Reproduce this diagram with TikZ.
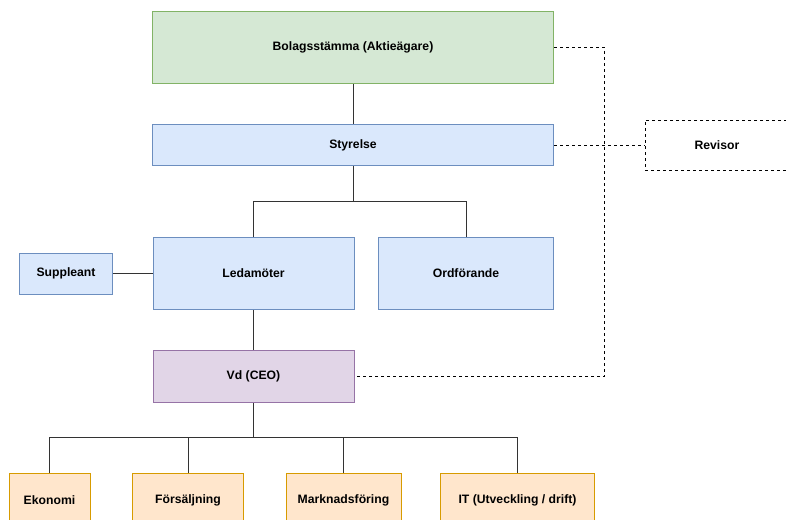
\documentclass[tikz,border=0pt]{standalone}
\usepackage{fontspec}
\setmainfont{Liberation Sans}
\definecolor{gfill}{HTML}{D5E8D4}\definecolor{gdraw}{HTML}{82B366}
\definecolor{bfill}{HTML}{DAE8FC}\definecolor{bdraw}{HTML}{6C8EBF}
\definecolor{pfill}{HTML}{E1D5E7}\definecolor{pdraw}{HTML}{9673A6}
\definecolor{ofill}{HTML}{FFE6CC}\definecolor{odraw}{HTML}{D79B00}
\definecolor{conn}{HTML}{333333}
\begin{document}
\begin{tikzpicture}[x=1pt,y=-1pt,
  box/.style={draw, line width=1pt, font=\fontsize{12.2}{14}\selectfont\bfseries, inner sep=0pt},
  green/.style={box, fill=gfill, draw=gdraw},
  blue/.style={box, fill=bfill, draw=bdraw},
  purple/.style={box, fill=pfill, draw=pdraw},
  orange/.style={box, fill=ofill, draw=odraw},
  dbox/.style={box, draw=black, dashed, dash pattern=on 3pt off 3pt},
  link/.style={draw=conn, line width=1pt},
  dlink/.style={draw=black, line width=1pt, dash pattern=on 3pt off 3pt}]
\useasboundingbox (0,0) rectangle (786,519);
\clip (0,0) rectangle (786,519);
\fill[white] (0,0) rectangle (786,519);
\node[green, minimum width=401pt, minimum height=72pt] (bol) at (353,47.5) {Bolagsstämma (Aktieägare)};
\node[blue, minimum width=401pt, minimum height=41pt] (sty) at (353,145) {Styrelse};
\node[dbox, minimum width=160pt, minimum height=50pt, text width=143pt, align=left] (rev) at (725,145) {\hspace*{41pt}Revisor};
\node[blue, minimum width=201pt, minimum height=72pt] (led) at (253.5,273.5) {Ledamöter};
\node[blue, minimum width=175pt, minimum height=72pt] (ord) at (466,273.5) {Ordförande};
\node[blue, minimum width=93pt, minimum height=41pt] (sup) at (66,273.5) {Suppleant};
\node[purple, minimum width=201pt, minimum height=52pt] (vd) at (253.5,376.5) {Vd (CEO)};
\node[orange, minimum width=81pt, minimum height=54pt] (eko) at (49.5,500) {Ekonomi};
\node[orange, minimum width=111pt, minimum height=54pt] (fors) at (188,500) {Försäljning};
\node[orange, minimum width=115pt, minimum height=54pt] (mark) at (343.5,500) {Marknadsföring};
\node[orange, minimum width=154pt, minimum height=54pt] (it) at (517.5,500) {IT (Utveckling / drift)};
\coordinate (b1) at (353,201.5);
\coordinate (b2) at (253.5,437.5);
\coordinate (dx) at (604.5,0);
% solid connectors
\draw[link] (bol.south) -- (sty.north);
\draw[link] (sty.south) -- (b1) -| (led.north);
\draw[link] (b1) -| (ord.north);
\draw[link] (sup.east) -- (led.west);
\draw[link] (led.south) -- (vd.north);
\draw[link] (vd.south) -- (b2) -| (eko.north);
\draw[link] (b2) -| (fors.north);
\draw[link] (b2) -| (mark.north);
\draw[link] (b2) -| (it.north);
% dashed connectors
\draw[dlink] (bol.east) -- (bol.east -| dx) -- (vd.east -| dx) -- (vd.east);
\draw[dlink] (sty.east) -- (rev.west);
\end{tikzpicture}
\end{document}
